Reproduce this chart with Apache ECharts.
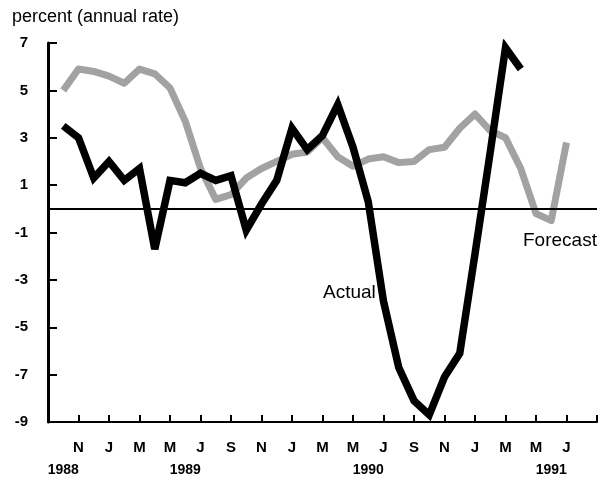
<!DOCTYPE html>
<html>
<head>
<meta charset="utf-8">
<script src="https://cdn.jsdelivr.net/npm/echarts@6/dist/echarts.min.js"></script>
<style>
  html, body { margin: 0; padding: 0; background: #fff; }
  #chart { width: 600px; height: 478px; }
</style>
</head>
<body>
<div id="chart"></div>
<script>
// monthly, Sep 1988 .. Sep 1991
const months = [
  'Sep 88', 'Oct 88', 'Nov 88', 'Dec 88',
  'Jan 89', 'Feb 89', 'Mar 89', 'Apr 89', 'May 89', 'Jun 89', 'Jul 89', 'Aug 89', 'Sep 89', 'Oct 89', 'Nov 89', 'Dec 89',
  'Jan 90', 'Feb 90', 'Mar 90', 'Apr 90', 'May 90', 'Jun 90', 'Jul 90', 'Aug 90', 'Sep 90', 'Oct 90', 'Nov 90', 'Dec 90',
  'Jan 91', 'Feb 91', 'Mar 91', 'Apr 91', 'May 91', 'Jun 91', 'Jul 91', 'Aug 91', 'Sep 91'
]

const monthLabels = [
  '', '', 'N', '', 'J', '', 'M', '', 'M', '', 'J', '', 'S', '', 'N', '',
  'J', '', 'M', '', 'M', '', 'J', '', 'S', '', 'N', '',
  'J', '', 'M', '', 'M', '', 'J', '', ''
]

const yearLabels = [
  '', '1988', '', '', '', '', '', '', '', '1989', '', '', '', '', '', '',
  '', '', '', '', '', '1990', '', '', '', '', '', '',
  '', '', '', '', '', '1991', '', '', ''
]

const actual = [
  null, 3.5, 3.0, 1.3,
  2.0, 1.2, 1.7, -1.7, 1.2, 1.1, 1.5, 1.2, 1.4, -0.9, 0.2, 1.2,
  3.4, 2.5, 3.1, 4.4, 2.6, 0.3, -3.9, -6.7, -8.1, -8.7, -7.1, -6.1,
  -1.9, 2.4, 6.8, 5.9, null, null, null, null, null
]

const forecast = [
  null, 5.0, 5.9, 5.8,
  5.6, 5.3, 5.9, 5.7, 5.1, 3.7, 1.7, 0.4, 0.6, 1.3, 1.7, 2.0,
  2.3, 2.4, 3.0, 2.2, 1.8, 2.1, 2.2, 1.95, 2.0, 2.5, 2.6, 3.4,
  4.0, 3.3, 3.0, 1.7, -0.2, -0.5, 2.8, null, null
]

const chart = echarts.init(document.getElementById('chart'))

const option = {
  animation: false,
  title: {
    text: 'percent (annual rate)',
    left: 7,
    top: 3,
    textStyle: { fontFamily: 'Liberation Sans', fontSize: 18, fontWeight: 'normal', color: '#000' }
  },
  grid: { left: 48, right: 2, top: 43, bottom: 56, containLabel: false },
  xAxis: [
    {
      type: 'category',
      data: months,
      boundaryGap: false,
      axisLine: { onZero: false, lineStyle: { color: '#000', width: 2 } },
      axisTick: {
        inside: true,
        length: 7,
        interval: (i) => i % 2 === 0,
        lineStyle: { color: '#000', width: 2 }
      },
      axisLabel: {
        interval: 0,
        margin: 18,
        formatter: (v, i) => monthLabels[i],
        fontFamily: 'Liberation Sans',
        fontWeight: 'bold',
        fontSize: 15,
        color: '#000'
      },
      splitLine: { show: false }
    },
    {
      type: 'category',
      data: months,
      boundaryGap: false,
      position: 'bottom',
      axisLine: { show: false },
      axisTick: { show: false },
      axisLabel: {
        interval: 0,
        margin: 41,
        formatter: (v, i) => yearLabels[i],
        fontFamily: 'Liberation Sans',
        fontWeight: 'bold',
        fontSize: 14,
        color: '#000'
      },
      splitLine: { show: false }
    }
  ],
  yAxis: {
    type: 'value',
    min: -9,
    max: 7,
    interval: 2,
    axisLine: { show: true, lineStyle: { color: '#000', width: 3 } },
    axisTick: { show: true, inside: true, length: 9, lineStyle: { color: '#000', width: 2 } },
    axisLabel: {
      margin: 20,
      fontFamily: 'Liberation Sans',
      fontWeight: 'bold',
      fontSize: 15,
      color: '#000'
    },
    splitLine: { show: false }
  },
  series: [
    {
      name: 'Forecast',
      type: 'line',
      data: forecast,
      showSymbol: false,
      symbol: 'none',
      lineStyle: { color: '#a2a2a2', width: 7, join: 'round' },
      markLine: {
        silent: true,
        symbol: 'none',
        label: { show: false },
        lineStyle: { color: '#000', width: 2, type: 'solid' },
        data: [{ yAxis: 0 }]
      },
      z: 2
    },
    {
      name: 'Actual',
      type: 'line',
      data: actual,
      showSymbol: false,
      symbol: 'none',
      lineStyle: { color: '#000', width: 7.5, join: 'miter', miterLimit: 4 },
      z: 3
    }
  ],
  graphic: [
    {
      type: 'text',
      left: 323,
      top: 283,
      style: { text: 'Actual', font: '19px "Liberation Sans"', fill: '#000' }
    },
    {
      type: 'text',
      left: 523,
      top: 231,
      style: { text: 'Forecast', font: '19px "Liberation Sans"', fill: '#000' }
    }
  ]
}

chart.setOption(option)
</script>
</body>
</html>
